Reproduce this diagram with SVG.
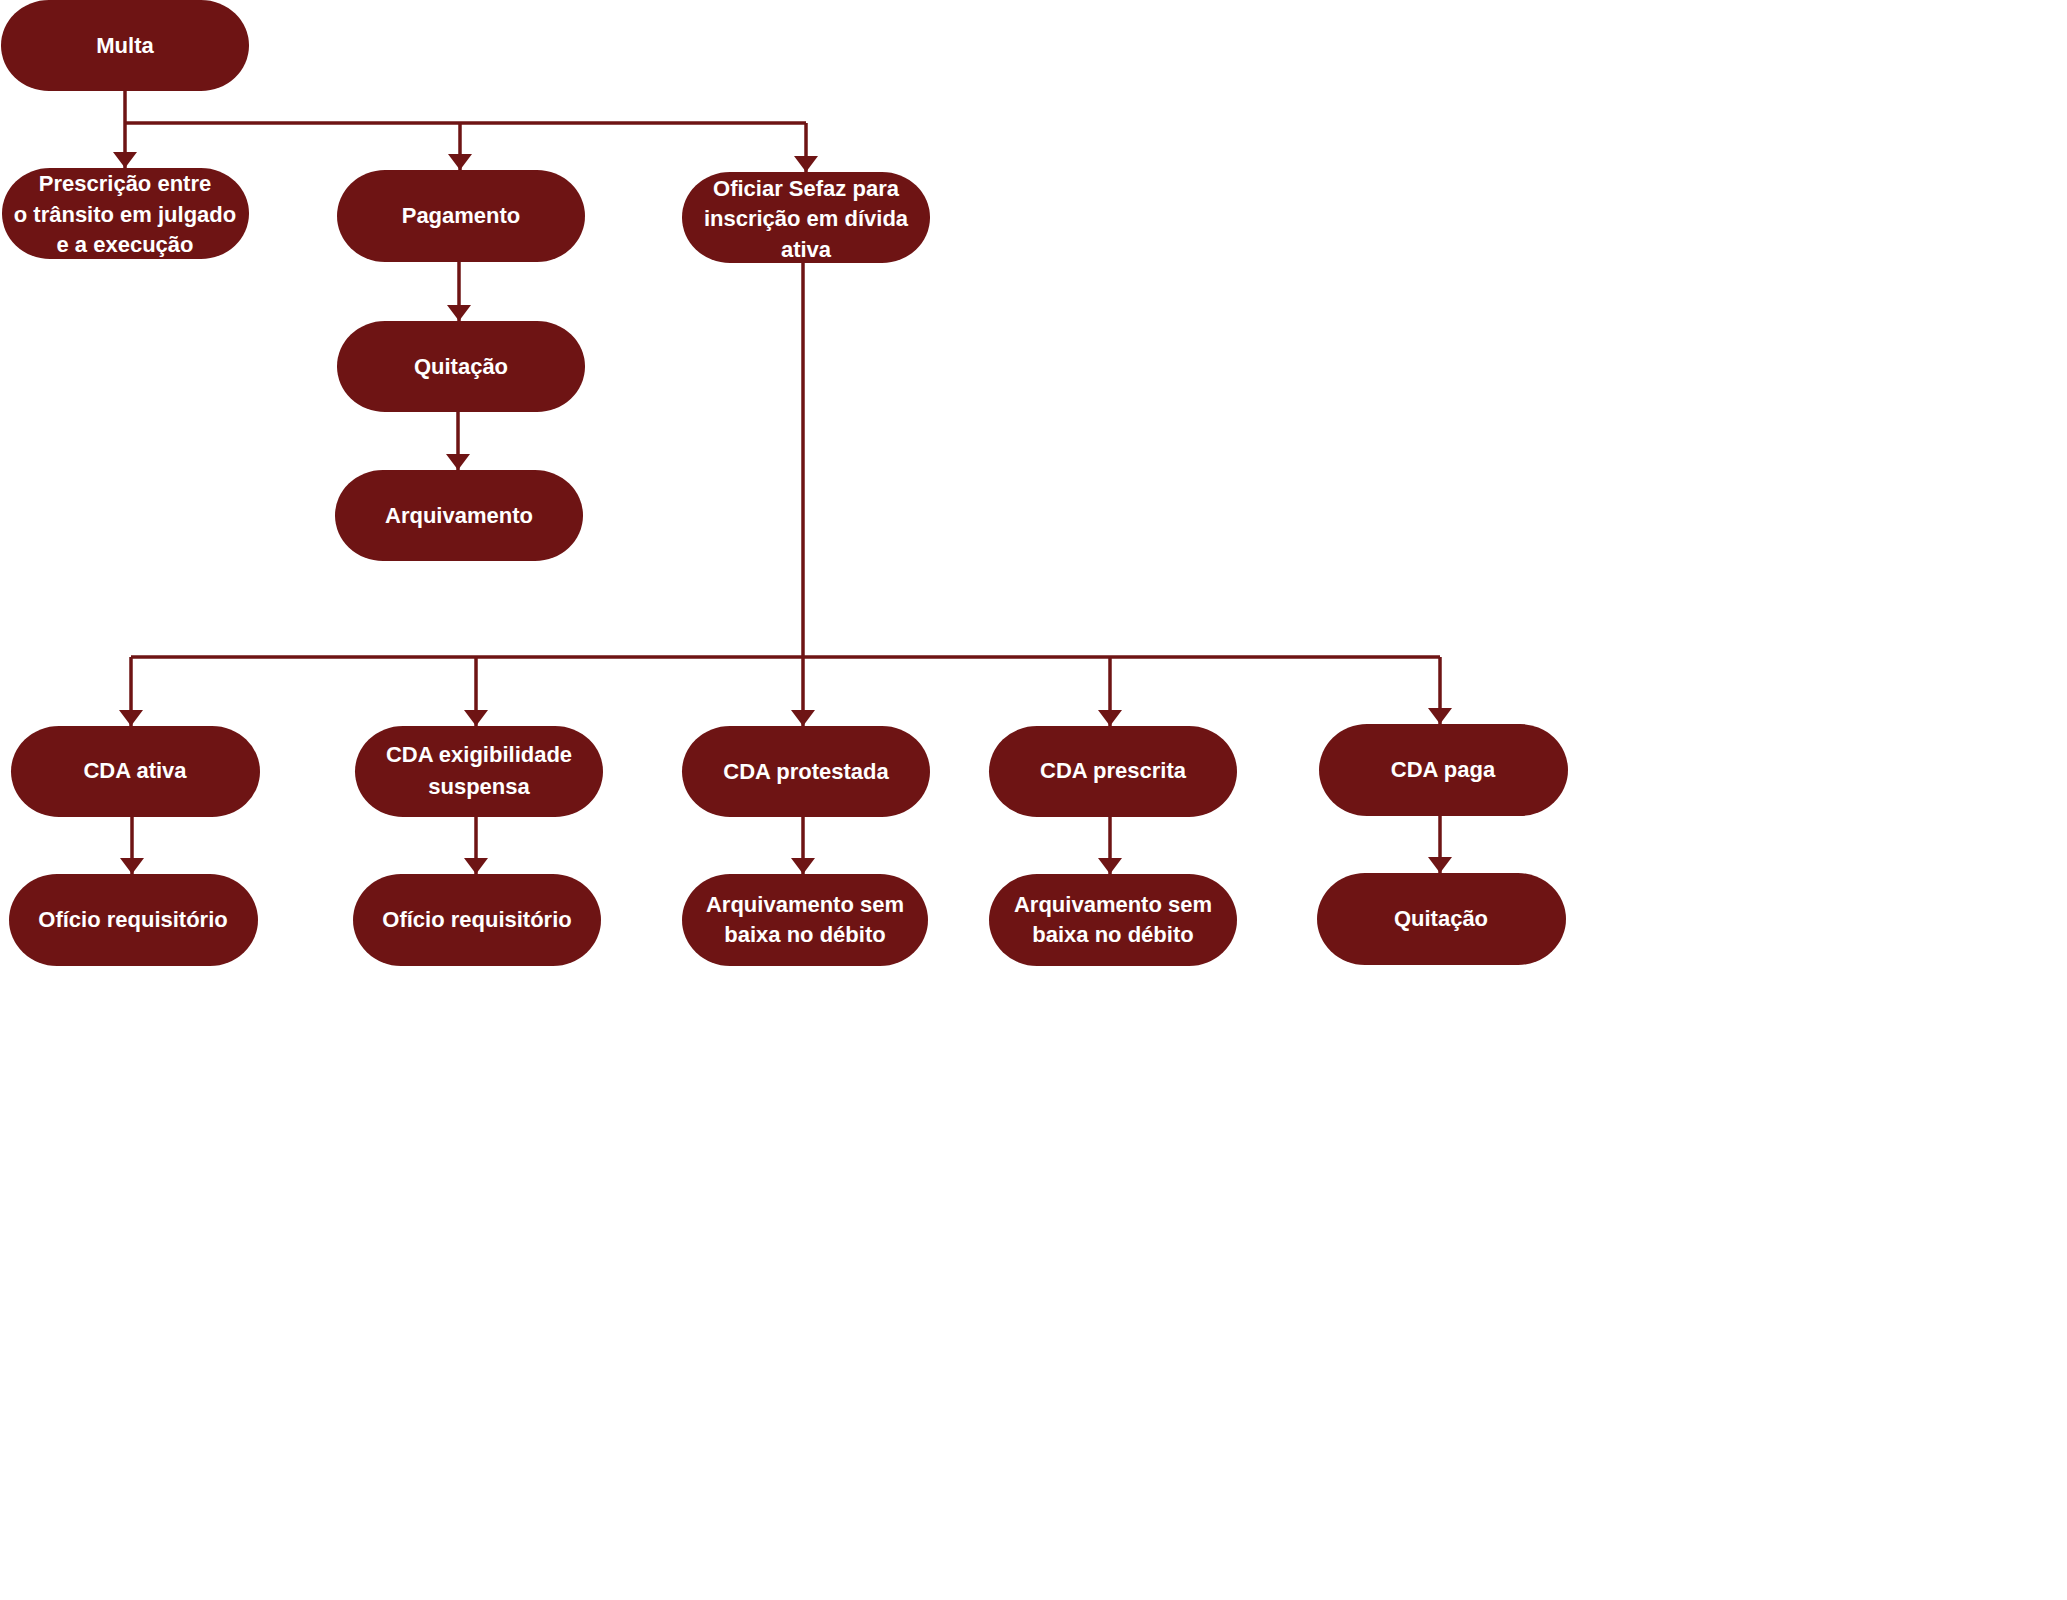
<svg xmlns="http://www.w3.org/2000/svg" width="2067" height="1600" viewBox="0 0 2067 1600">
<style>
.n{fill:#6E1414}
.t{fill:#FFFFFF;font-family:"Liberation Sans",Arial,sans-serif;font-weight:bold;font-size:22px;text-anchor:middle}
.c{fill:none;stroke:#6E1414;stroke-width:3.5}
</style>
<defs>
<marker id="a" markerUnits="userSpaceOnUse" markerWidth="16" markerHeight="24" refX="16" refY="12" orient="auto" viewBox="0 0 16 24">
<path d="M0 0 L16 12 L0 24 Z" fill="#6E1414"/>
</marker>
</defs>
<rect width="2067" height="1600" fill="#FFFFFF"/>
<g id="connectors">
<path class="c" d="M125 91 V168" marker-end="url(#a)"/>
<path class="c" d="M125 123 H806"/>
<path class="c" d="M460 123 V170" marker-end="url(#a)"/>
<path class="c" d="M806 123 V172" marker-end="url(#a)"/>
<path class="c" d="M459 262 V321" marker-end="url(#a)"/>
<path class="c" d="M458 412 V470" marker-end="url(#a)"/>
<path class="c" d="M803 263 V726" marker-end="url(#a)"/>
<path class="c" d="M131 657 H1440"/>
<path class="c" d="M131 657 V726" marker-end="url(#a)"/>
<path class="c" d="M476 657 V726" marker-end="url(#a)"/>
<path class="c" d="M1110 657 V726" marker-end="url(#a)"/>
<path class="c" d="M1440 657 V724" marker-end="url(#a)"/>
<path class="c" d="M132 817 V874" marker-end="url(#a)"/>
<path class="c" d="M476 817 V874" marker-end="url(#a)"/>
<path class="c" d="M803 817 V874" marker-end="url(#a)"/>
<path class="c" d="M1110 817 V874" marker-end="url(#a)"/>
<path class="c" d="M1440 816 V873" marker-end="url(#a)"/>
</g>
<g id="multa"><rect class="n" x="1" y="0" width="248" height="91" rx="48" ry="45.5"/><text class="t" x="125" y="53">Multa</text></g>
<g id="prescricao"><rect class="n" x="2" y="168" width="247" height="91" rx="48" ry="45.5"/><text class="t" x="125" y="191">Prescrição entre</text><text class="t" x="125" y="222">o trânsito em julgado</text><text class="t" x="125" y="252">e a execução</text></g>
<g id="pagamento"><rect class="n" x="337" y="170" width="248" height="92" rx="48" ry="46"/><text class="t" x="461" y="223">Pagamento</text></g>
<g id="oficiar"><rect class="n" x="682" y="172" width="248" height="91" rx="48" ry="45.5"/><text class="t" x="806" y="196">Oficiar Sefaz para</text><text class="t" x="806" y="226">inscrição em dívida</text><text class="t" x="806" y="257">ativa</text></g>
<g id="quitacao1"><rect class="n" x="337" y="321" width="248" height="91" rx="48" ry="45.5"/><text class="t" x="461" y="374">Quitação</text></g>
<g id="arquivamento"><rect class="n" x="335" y="470" width="248" height="91" rx="48" ry="45.5"/><text class="t" x="459" y="523">Arquivamento</text></g>
<g id="cda-ativa"><rect class="n" x="11" y="726" width="249" height="91" rx="48" ry="45.5"/><text class="t" x="135" y="778">CDA ativa</text></g>
<g id="cda-exig"><rect class="n" x="355" y="726" width="248" height="91" rx="48" ry="45.5"/><text class="t" x="479" y="762">CDA exigibilidade</text><text class="t" x="479" y="794">suspensa</text></g>
<g id="cda-protestada"><rect class="n" x="682" y="726" width="248" height="91" rx="48" ry="45.5"/><text class="t" x="806" y="779">CDA protestada</text></g>
<g id="cda-prescrita"><rect class="n" x="989" y="726" width="248" height="91" rx="48" ry="45.5"/><text class="t" x="1113" y="778">CDA prescrita</text></g>
<g id="cda-paga"><rect class="n" x="1319" y="724" width="249" height="92" rx="48" ry="46"/><text class="t" x="1443" y="777">CDA paga</text></g>
<g id="oficio1"><rect class="n" x="9" y="874" width="249" height="92" rx="48" ry="46"/><text class="t" x="133" y="927">Ofício requisitório</text></g>
<g id="oficio2"><rect class="n" x="353" y="874" width="248" height="92" rx="48" ry="46"/><text class="t" x="477" y="927">Ofício requisitório</text></g>
<g id="arq-sem-baixa1"><rect class="n" x="682" y="874" width="246" height="92" rx="48" ry="46"/><text class="t" x="805" y="912">Arquivamento sem</text><text class="t" x="805" y="942">baixa no débito</text></g>
<g id="arq-sem-baixa2"><rect class="n" x="989" y="874" width="248" height="92" rx="48" ry="46"/><text class="t" x="1113" y="912">Arquivamento sem</text><text class="t" x="1113" y="942">baixa no débito</text></g>
<g id="quitacao2"><rect class="n" x="1317" y="873" width="249" height="92" rx="48" ry="46"/><text class="t" x="1441" y="926">Quitação</text></g>
</svg>
